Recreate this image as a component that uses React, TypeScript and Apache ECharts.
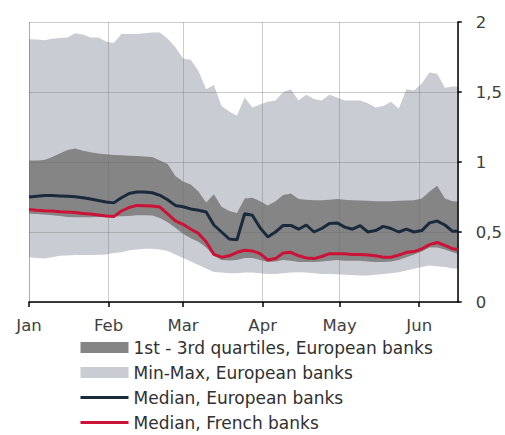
import React, { useEffect, useRef } from "react";
import * as echarts from "echarts";

const dates = [
  "2020-01-01","2020-01-04","2020-01-07","2020-01-10","2020-01-13","2020-01-16","2020-01-19","2020-01-22","2020-01-25","2020-01-28","2020-01-31",
  "2020-02-03","2020-02-06","2020-02-09","2020-02-12","2020-02-15","2020-02-18","2020-02-21","2020-02-24","2020-02-27",
  "2020-03-01","2020-03-04","2020-03-07","2020-03-10","2020-03-13","2020-03-16","2020-03-19","2020-03-22","2020-03-25","2020-03-28","2020-03-31",
  "2020-04-03","2020-04-06","2020-04-09","2020-04-12","2020-04-15","2020-04-18","2020-04-21","2020-04-24","2020-04-27","2020-04-30",
  "2020-05-03","2020-05-06","2020-05-09","2020-05-12","2020-05-15","2020-05-18","2020-05-21","2020-05-24","2020-05-27","2020-05-30",
  "2020-06-02","2020-06-05","2020-06-08","2020-06-11","2020-06-14","2020-06-16"
];

const maxEU = [1.877,1.875,1.87,1.88,1.885,1.89,1.92,1.91,1.89,1.89,1.86,1.85,1.915,1.915,1.915,1.92,1.925,1.925,1.88,1.82,1.74,1.73,1.65,1.52,1.55,1.40,1.36,1.33,1.46,1.39,1.41,1.43,1.44,1.50,1.52,1.44,1.48,1.45,1.44,1.48,1.46,1.44,1.44,1.44,1.42,1.39,1.40,1.43,1.38,1.52,1.51,1.56,1.64,1.63,1.53,1.54,1.54];
const minEU = [0.32,0.315,0.31,0.32,0.33,0.333,0.335,0.336,0.336,0.338,0.34,0.35,0.355,0.37,0.375,0.38,0.38,0.375,0.365,0.34,0.315,0.29,0.265,0.24,0.215,0.21,0.205,0.205,0.21,0.21,0.205,0.20,0.20,0.205,0.21,0.213,0.21,0.205,0.20,0.20,0.198,0.195,0.192,0.19,0.19,0.195,0.20,0.205,0.213,0.225,0.237,0.25,0.26,0.255,0.25,0.24,0.24];
const q3EU = [1.01,1.01,1.015,1.036,1.06,1.085,1.096,1.08,1.07,1.06,1.055,1.05,1.048,1.045,1.042,1.04,1.035,1.01,0.985,0.90,0.86,0.84,0.79,0.71,0.77,0.68,0.65,0.635,0.74,0.745,0.72,0.69,0.72,0.765,0.775,0.735,0.73,0.727,0.727,0.73,0.735,0.73,0.727,0.725,0.723,0.72,0.72,0.72,0.723,0.725,0.727,0.74,0.79,0.83,0.74,0.72,0.718];
const q1EU = [0.63,0.628,0.625,0.62,0.615,0.607,0.605,0.605,0.605,0.607,0.607,0.61,0.612,0.615,0.62,0.62,0.617,0.60,0.57,0.53,0.488,0.455,0.43,0.39,0.33,0.30,0.297,0.30,0.315,0.315,0.30,0.285,0.29,0.30,0.295,0.285,0.285,0.285,0.29,0.295,0.30,0.295,0.295,0.295,0.29,0.285,0.285,0.29,0.30,0.32,0.34,0.36,0.39,0.39,0.375,0.355,0.345];
const medianEU = [0.75,0.755,0.76,0.76,0.758,0.755,0.752,0.745,0.735,0.725,0.715,0.708,0.745,0.775,0.786,0.785,0.78,0.762,0.73,0.69,0.68,0.665,0.655,0.643,0.55,0.50,0.45,0.445,0.63,0.62,0.53,0.465,0.50,0.547,0.547,0.52,0.55,0.50,0.525,0.56,0.565,0.535,0.52,0.545,0.50,0.51,0.54,0.525,0.50,0.52,0.50,0.51,0.565,0.578,0.55,0.505,0.505];
const medianFR = [0.66,0.655,0.652,0.65,0.645,0.642,0.64,0.632,0.628,0.622,0.615,0.61,0.65,0.675,0.69,0.688,0.685,0.678,0.63,0.58,0.555,0.52,0.49,0.43,0.34,0.32,0.33,0.355,0.37,0.365,0.345,0.30,0.31,0.35,0.355,0.33,0.315,0.31,0.325,0.345,0.345,0.345,0.34,0.34,0.335,0.33,0.32,0.32,0.335,0.355,0.36,0.38,0.41,0.425,0.405,0.38,0.375];

const monthNames = ["Jan","Feb","Mar","Apr","May","Jun","Jul","Aug","Sep","Oct","Nov","Dec"];
const yTicks = [0, 0.5, 1, 1.5, 2];

const NAME_Q = "1st - 3rd quartiles, European banks";
const NAME_MM = "Min-Max, European banks";
const NAME_EU = "Median, European banks";
const NAME_FR = "Median, French banks";

const LIGHT = "#c9ccd3";
const DARK = "#858585";
const NAVY = "#1a2a3d";
const RED = "#cc1236";
const FONT = "'DejaVu Sans', 'Open Sans', sans-serif";

export default function App() {
  const ref = useRef<HTMLDivElement>(null);
  useEffect(() => {
    if (!ref.current) return;
    const chart = echarts.init(ref.current, null, { renderer: "svg" });
    const pair = (arr: number[]) => dates.map((d, i) => [d, arr[i]]);
    const diff = (a: number[], b: number[]) => dates.map((d, i) => [d, +(a[i] - b[i]).toFixed(4)]);
    const hidden = { lineStyle: { opacity: 0 }, symbol: "none", silent: true, z: 1 };
    chart.setOption({
      animation: false,
      textStyle: { fontFamily: FONT },
      grid: { left: 29, right: 43, top: 22, bottom: 133 },
      legend: {
        orient: "vertical",
        left: 79,
        top: 339,
        padding: 0,
        itemWidth: 48,
        itemHeight: 11,
        itemGap: 8,
        textStyle: { fontFamily: FONT, fontSize: 17, color: "#303030" },
        data: [
          { name: NAME_Q, icon: "rect", itemStyle: { color: DARK, borderWidth: 0 } },
          { name: NAME_MM, icon: "rect", itemStyle: { color: LIGHT, borderWidth: 0 } },
          { name: NAME_EU, itemStyle: { opacity: 0 }, lineStyle: { width: 3, color: NAVY } },
          { name: NAME_FR, itemStyle: { opacity: 0 }, lineStyle: { width: 3, color: RED } },
        ],
      },
      xAxis: {
        type: "time",
        min: "2020-01-01",
        max: "2020-06-16",
        z: 2,
        axisLine: { lineStyle: { color: "#000", width: 1.5 } },
        axisTick: { show: true, length: 5, lineStyle: { color: "#000", width: 1.5 } },
        axisLabel: {
          margin: 15,
          fontSize: 16.5,
          color: "#404040",
          fontFamily: FONT,
          formatter: (v: number) => monthNames[new Date(v).getMonth()],
        },
        splitLine: { show: true, lineStyle: { color: "rgba(110,110,110,0.35)", width: 1 } },
      },
      yAxis: {
        type: "value",
        position: "right",
        min: 0,
        max: 2,
        interval: 0.5,
        z: 2,
        axisLine: { show: true, lineStyle: { color: "#000", width: 1.5 } },
        axisTick: { show: true, length: 4, lineStyle: { color: "#000", width: 1.5 } },
        axisLabel: {
          margin: 18,
          fontSize: 16.5,
          color: "#404040",
          fontFamily: FONT,
          formatter: (v: number) => (yTicks.includes(v) ? String(v).replace(".", ",") : ""),
        },
        splitLine: { show: true, lineStyle: { color: "rgba(110,110,110,0.35)", width: 1 } },
      },
      series: [
        { type: "line", name: "minBase", stack: "mm", data: pair(minEU), ...hidden },
        {
          type: "line", name: NAME_MM, stack: "mm", data: diff(maxEU, minEU),
          symbol: "none", lineStyle: { opacity: 0 }, itemStyle: { color: LIGHT },
          areaStyle: { color: LIGHT, opacity: 1 }, z: 1, silent: true,
        },
        { type: "line", name: "q1Base", stack: "qq", data: pair(q1EU), ...hidden },
        {
          type: "line", name: NAME_Q, stack: "qq", data: diff(q3EU, q1EU),
          symbol: "none", lineStyle: { opacity: 0 }, itemStyle: { color: DARK },
          areaStyle: { color: DARK, opacity: 1 }, z: 1, silent: true,
        },
        {
          type: "line", name: NAME_EU, data: pair(medianEU), symbol: "none",
          lineStyle: { color: NAVY, width: 3 }, itemStyle: { color: NAVY }, z: 3,
        },
        {
          type: "line", name: NAME_FR, data: pair(medianFR), symbol: "none",
          lineStyle: { color: RED, width: 3 }, itemStyle: { color: RED }, z: 3,
        },
      ],
    });
    return () => chart.dispose();
  }, []);
  return <div ref={ref} style={{ position: "absolute", left: 0, top: 0, width: 505, height: 435 }} />;
}
